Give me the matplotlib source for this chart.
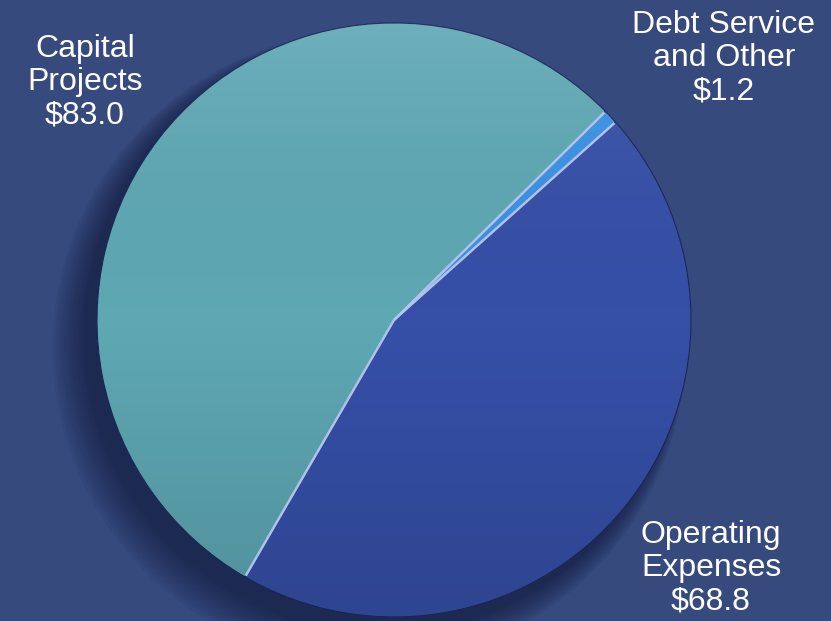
import numpy as np
import matplotlib.pyplot as plt
from matplotlib.colors import LinearSegmentedColormap
from matplotlib.patches import Circle

### data ###
labels = ["Capital\nProjects", "Operating\nExpenses", "Debt Service\nand Other"]
values = [83.0, 68.8, 1.2]
colors = ["#5EA8B4", "#3650A8", "#3A92E4"]
bg = "#364A7E"

### layout (pixels of the reference) ###
W, H = 831, 621
cx, cy, rpx = 394, 320, 297

fig = plt.figure(figsize=(W / 100, H / 100), dpi=100)
fig.patch.set_facecolor(bg)
ax = fig.add_axes([0, 0, 1, 1])
ax.set_facecolor(bg)

# soft shadow under the pie
for k in range(12):
    ax.add_patch(Circle((-0.04 - k * 0.004, -0.05 - k * 0.004), 1.0 + k * 0.006,
                        color="#0c1230", alpha=0.06, zorder=0, lw=0))

wedges, _ = ax.pie(values, colors=colors, startangle=44.6, radius=1.0,
                   wedgeprops=dict(edgecolor="#1c2858", linewidth=0.8))
for w in wedges:
    w.set_zorder(2)

# light-to-dark gradient on each slice
shade_cmap = LinearSegmentedColormap.from_list(
    "shade", [(1, 1, 1, 0.10), (0, 0, 0, 0.0), (0, 0, 0, 0.14)])
for w in wedges:
    shade = ax.imshow(np.linspace(0, 1, 256).reshape(-1, 1),
                      extent=(-1, 1, -1, 1), origin="upper", cmap=shade_cmap,
                      zorder=3, interpolation="bilinear")
    shade.set_clip_path(w)

# light highlight on the radial edges
for w in wedges:
    for th in (w.theta1, w.theta2):
        t = np.deg2rad(th)
        ax.plot([0, np.cos(t) * 0.995], [0, np.sin(t) * 0.995],
                color="#B8C8F0", lw=1.6, alpha=0.8, zorder=4,
                solid_capstyle="butt")

# labels
txt = dict(color="white", fontsize=23, family="Liberation Sans",
           ha="center", va="center", linespacing=1.15)
pos = [(85, 82), (711, 568), (724, 58)]
for lab, v, (px, py) in zip(labels, values, pos):
    ax.text((px - cx) / rpx, (cy - py) / rpx, "%s\n$%.1f" % (lab, v),
            zorder=5, **txt)

ax.set_xlim(-cx / rpx, (W - cx) / rpx)
ax.set_ylim(-(H - cy) / rpx, cy / rpx)
ax.set_aspect("equal")
ax.axis("off")

fig.savefig("out.png", dpi=100, facecolor=bg)
